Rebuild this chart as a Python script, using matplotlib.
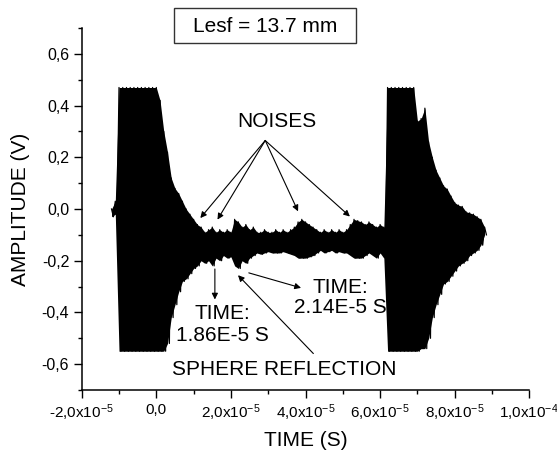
import matplotlib
matplotlib.use('Agg')
import matplotlib.pyplot as plt
from matplotlib.patches import Rectangle
import numpy as np

plt.rcParams['font.family'] = ['Liberation Sans', 'DejaVu Sans']
plt.rcParams['mathtext.default'] = 'regular'

# sample times of the trace, in units of 1e-5 s (every 0.1e-5 s)
timeSteps = np.round(np.arange(-1.2, 8.85, 0.1), 2)

# upper and lower peaks of the signal (V) read at each sample time
upperPeaks = [0.00, 0.03, 0.47, 0.47, 0.47, 0.47, 0.47, 0.47, 0.47, 0.47,
              0.47, 0.47, 0.47, 0.42, 0.30, 0.22, 0.12, 0.08, 0.06, 0.03,
              0.00, -0.02, -0.04, -0.06, -0.07, -0.09, -0.08, -0.07, -0.09, -0.08,
              -0.09, -0.08, -0.09, -0.04, -0.05, -0.07, -0.06, -0.08, -0.07, -0.09,
              -0.09, -0.08, -0.09, -0.09, -0.08, -0.09, -0.08, -0.09, -0.08, -0.07,
              -0.05, -0.04, -0.05, -0.06, -0.07, -0.08, -0.09, -0.08, -0.09, -0.08,
              -0.09, -0.08, -0.09, -0.08, -0.06, -0.04, -0.045, -0.05, -0.06, -0.05,
              -0.06, -0.07, -0.06, -0.07, 0.47, 0.47, 0.47, 0.47, 0.47, 0.47,
              0.47, 0.47, 0.34, 0.35, 0.39, 0.26, 0.20, 0.15, 0.12, 0.09,
              0.077, 0.05, 0.025, 0.015, 0.01, -0.01, -0.015, -0.02, -0.03, -0.04,
              -0.07]
lowerPeaks = [-0.03, -0.02, -0.55, -0.55, -0.55, -0.55, -0.55, -0.55, -0.55, -0.55,
              -0.55, -0.55, -0.55, -0.55, -0.55, -0.52, -0.42, -0.37, -0.32, -0.28,
              -0.27, -0.25, -0.23, -0.22, -0.20, -0.21, -0.20, -0.22, -0.19, -0.20,
              -0.18, -0.19, -0.185, -0.22, -0.23, -0.20, -0.21, -0.19, -0.18, -0.17,
              -0.175, -0.17, -0.165, -0.17, -0.17, -0.17, -0.165, -0.17, -0.175, -0.18,
              -0.19, -0.19, -0.19, -0.185, -0.18, -0.17, -0.16, -0.17, -0.165, -0.16,
              -0.17, -0.165, -0.17, -0.17, -0.18, -0.19, -0.19, -0.19, -0.18, -0.17,
              -0.18, -0.19, -0.17, -0.19, -0.55, -0.55, -0.55, -0.55, -0.55, -0.55,
              -0.55, -0.55, -0.55, -0.54, -0.54, -0.50, -0.42, -0.37, -0.33, -0.29,
              -0.28, -0.26, -0.24, -0.22, -0.21, -0.20, -0.18, -0.17, -0.16, -0.14,
              -0.10]

xTicks = [-2e-5, 0, 2e-5, 4e-5, 6e-5, 8e-5, 1e-4]
xTickLabels = ['-2,0x10$^{-5}$', '0,0', '2,0x10$^{-5}$', '4,0x10$^{-5}$',
               '6,0x10$^{-5}$', '8,0x10$^{-5}$', '1,0x10$^{-4}$']
yTicks = [-0.6, -0.4, -0.2, 0.0, 0.2, 0.4, 0.6]
yTickLabels = ['-0,6', '-0,4', '-0,2', '0,0', '0,2', '0,4', '0,6']

# trace swings between the upper and lower peak of each sample
traceT = np.empty(2 * len(timeSteps))
traceT[0::2] = timeSteps
traceT[1::2] = timeSteps + 0.05
traceV = np.empty(2 * len(timeSteps))
traceV[0::2] = upperPeaks
traceV[1::2] = lowerPeaks

fig = plt.figure(figsize=(5.57, 4.57), dpi=100)
ax = fig.add_axes([0.1467, 0.1466, 0.8036, 0.7921])
# the oscillation is too dense to resolve: fill its envelope, then draw the swings on top
ax.fill_between(timeSteps * 1e-5, lowerPeaks, upperPeaks, color='black', lw=0)
ax.plot(traceT * 1e-5, traceV, color='black', lw=0.9)

ax.set_xlim(-2e-5, 1e-4)
ax.set_ylim(-0.7, 0.7)
ax.set_xticks(xTicks)
ax.set_xticklabels(xTickLabels, fontsize=11)
ax.set_xticks(np.arange(-2e-5, 1.01e-4, 1e-5), minor=True)
ax.set_yticks(yTicks)
ax.set_yticklabels(yTickLabels, fontsize=11.5)
ax.set_yticks(np.arange(-0.7, 0.71, 0.1), minor=True)
ax.tick_params(which='major', direction='out', length=6, width=1, pad=3)
ax.tick_params(which='minor', direction='out', length=3, width=1)
for side in ['top', 'right']:
    ax.spines[side].set_visible(False)
for side in ['left', 'bottom']:
    ax.spines[side].set_linewidth(1.1)

ax.set_xlabel('TIME (S)', fontsize=15, labelpad=6)
ax.set_ylabel('AMPLITUDE (V)', fontsize=15, labelpad=8)

arrowStyle = dict(arrowstyle='-|>', color='black', lw=0.8, mutation_scale=9,
                  shrinkA=0, shrinkB=0)

ax.text(3.22e-5, 0.337, 'NOISES', fontsize=15, ha='center', va='center')
noiseTargets = [(1.18e-5, -0.035), (1.64e-5, -0.041), (3.80e-5, -0.009), (5.19e-5, -0.029)]
for tx, ty in noiseTargets:
    ax.annotate('', xy=(tx, ty), xytext=(2.92e-5, 0.265), arrowprops=arrowStyle)

ax.annotate('', xy=(1.57e-5, -0.35), xytext=(1.57e-5, -0.232), arrowprops=arrowStyle)
ax.text(1.77e-5, -0.447, 'TIME:\n1.86E-5 S', fontsize=15, ha='center', va='center',
        linespacing=1.15)

ax.annotate('', xy=(3.88e-5, -0.305), xytext=(2.48e-5, -0.247), arrowprops=arrowStyle)
ax.text(4.93e-5, -0.343, 'TIME:\n2.14E-5 S', fontsize=15, ha='center', va='center',
        linespacing=1.05)

ax.annotate('', xy=(2.19e-5, -0.256), xytext=(4.21e-5, -0.559), arrowprops=arrowStyle)
ax.text(3.42e-5, -0.62, 'SPHERE REFLECTION', fontsize=15, ha='center', va='center')

fig.patches.append(Rectangle((0.3124, 0.9059), 0.3268, 0.0766, transform=fig.transFigure,
                             fill=False, edgecolor='#333333', lw=1.0))
fig.text(0.476, 0.943, 'Lesf = 13.7 mm', fontsize=15, ha='center', va='center')

plt.savefig('out.png', dpi=100)
